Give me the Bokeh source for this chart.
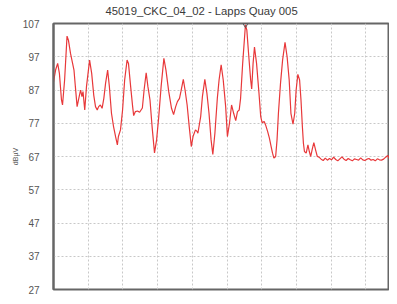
from bokeh.plotting import figure
from bokeh.models import FixedTicker, Range1d, Title
from bokeh.embed import file_html
from bokeh.resources import INLINE

# ---- data ----
title_text = "45019_CKC_04_02 - Lapps Quay 005"
y_label = "dBµV"
y_ticks = [27, 37, 47, 57, 67, 77, 87, 97, 107]
x_grid = [0, 100, 200, 300, 400, 500, 600, 700, 800, 900]

trace_x = [0, 6, 12, 17, 23, 26, 32, 39, 43, 49, 55, 59, 63, 68, 72, 78, 82, 85, 90, 95,
           104, 110, 116, 121, 126, 130, 135, 140, 145, 150, 156, 161, 167, 173, 179, 184,
           187, 193, 199, 205, 212, 216, 222, 228, 231, 236, 242, 248, 256, 261, 267, 272,
           278, 284, 291, 297, 303, 310, 318, 324, 332, 340, 346, 352, 357, 363, 367, 374,
           379, 385, 391, 397, 402, 409, 414, 416, 424, 429, 436, 442, 448, 454, 459, 465,
           472, 477, 483, 489, 496, 501, 507, 513, 519, 525, 530, 535, 539, 545, 553, 557,
           562, 568, 571, 575, 579, 585, 592, 597, 601, 607, 611, 617, 622, 627, 631, 635,
           640, 644, 648, 654, 660, 667, 673, 679, 684, 690, 695, 699, 704, 709, 713, 717,
           720, 723, 728, 733, 737, 741, 745, 750, 755, 760, 765,
           771, 777, 783, 789, 795, 801, 807, 813, 819, 825, 831, 837, 843, 849, 855, 861,
           867, 873, 879, 885, 891, 897, 903, 909, 915, 921, 927, 933, 939, 945, 951, 957,
           963, 969, 975, 981, 987, 993]
trace_y = [89.4, 93, 95, 92, 84, 82.5, 90, 103.2, 102, 98, 95, 93, 88, 82, 84, 87, 85, 86.5, 81, 88,
           96, 92, 85.4, 82, 81, 82, 82.5, 81.5, 84.5, 89, 93, 88, 80, 76, 72.9, 70.5,
           73, 75, 81, 90, 96, 95, 88.3, 82, 79.3, 80.5, 80.7, 80.3, 81.6, 87, 92.2, 88,
           84, 76, 68.1, 72, 78.7, 88, 96.5, 93, 86.5, 81.5, 79.6, 82, 83.5, 84.5, 86.5, 90.2,
           87, 82.5, 76, 70, 73, 75, 74.5, 74, 79, 85, 90.2, 86, 80, 72, 67.6, 74,
           84.5, 90, 94.6, 90, 82, 73, 77, 82.5, 80, 77.8, 80.5, 81, 84.5, 95, 106.6, 105,
           98, 90, 87.3, 95, 99.9, 95, 86, 79, 77.2, 77.5, 76.5, 74.5, 72.5, 70, 68, 66.5,
           67, 72, 80, 89, 96, 101.3, 97, 90, 80, 76.7, 80, 87, 91.7, 90, 84, 76,
           71, 68.5, 68, 70.5, 68.5, 67, 69, 71.2, 69, 67, 66.8,
           66.2, 65.8, 66.5, 65.9, 66.4, 66.0, 66.8, 66.1, 65.7, 66.3, 66.9, 66.2, 65.8, 66.4, 66.0, 65.7,
           66.3, 66.1, 65.9, 66.6, 66.0, 65.8, 66.2, 66.4, 65.9, 66.1, 65.7, 66.3, 66.0, 65.9, 66.2, 66.8,
           67.3, 66.1, 65.9, 66.5, 66.8, 66.0]
peak_x = [553]
peak_y = [106.6]

FONT = "Liberation Sans"

p = figure(width=389, height=296, output_backend="svg", toolbar_location=None,
           x_range=Range1d(0, 968), y_range=Range1d(27, 107),
           x_axis_location=None, title=None,
           min_border_left=53, min_border_right=0, min_border_top=22, min_border_bottom=7)

p.add_layout(Title(text=title_text, align="left", offset=52, standoff=9,
                   vertical_align="top",
                   text_font=FONT, text_font_size="11.3px", text_font_style="normal",
                   text_color="#3a3a3a"), "above")

p.background_fill_color = "white"
p.border_fill_color = "white"
p.outline_line_color = "#666666"
p.outline_line_width = 2

yax = p.yaxis[0]
yax.ticker = FixedTicker(ticks=y_ticks)
yax.axis_label = y_label
yax.axis_label_text_font = FONT
yax.axis_label_text_font_size = "7px"
yax.axis_label_text_font_style = "normal"
yax.axis_label_text_color = "#555555"
yax.axis_label_standoff = 1
yax.major_label_text_font = FONT
yax.major_label_text_font_size = "10px"
yax.major_label_text_color = "#555555"
yax.major_label_standoff = 8
yax.major_tick_line_color = None
yax.minor_tick_line_color = None
yax.axis_line_color = "#666666"
yax.axis_line_width = 2

p.ygrid.ticker = FixedTicker(ticks=y_ticks)
p.xgrid.ticker = FixedTicker(ticks=x_grid)
for g in (p.xgrid, p.ygrid):
    g.grid_line_color = "#c8c8c8"
    g.grid_line_dash = "2 2"
    g.grid_line_width = 1

p.line(trace_x, trace_y, line_color="#e8383a", line_width=1.2)
p.scatter(peak_x, peak_y, marker="inverted_triangle", size=5,
          line_color="#555555", fill_color=None, line_width=1)

open("out.html", "w").write(file_html(p, INLINE))
